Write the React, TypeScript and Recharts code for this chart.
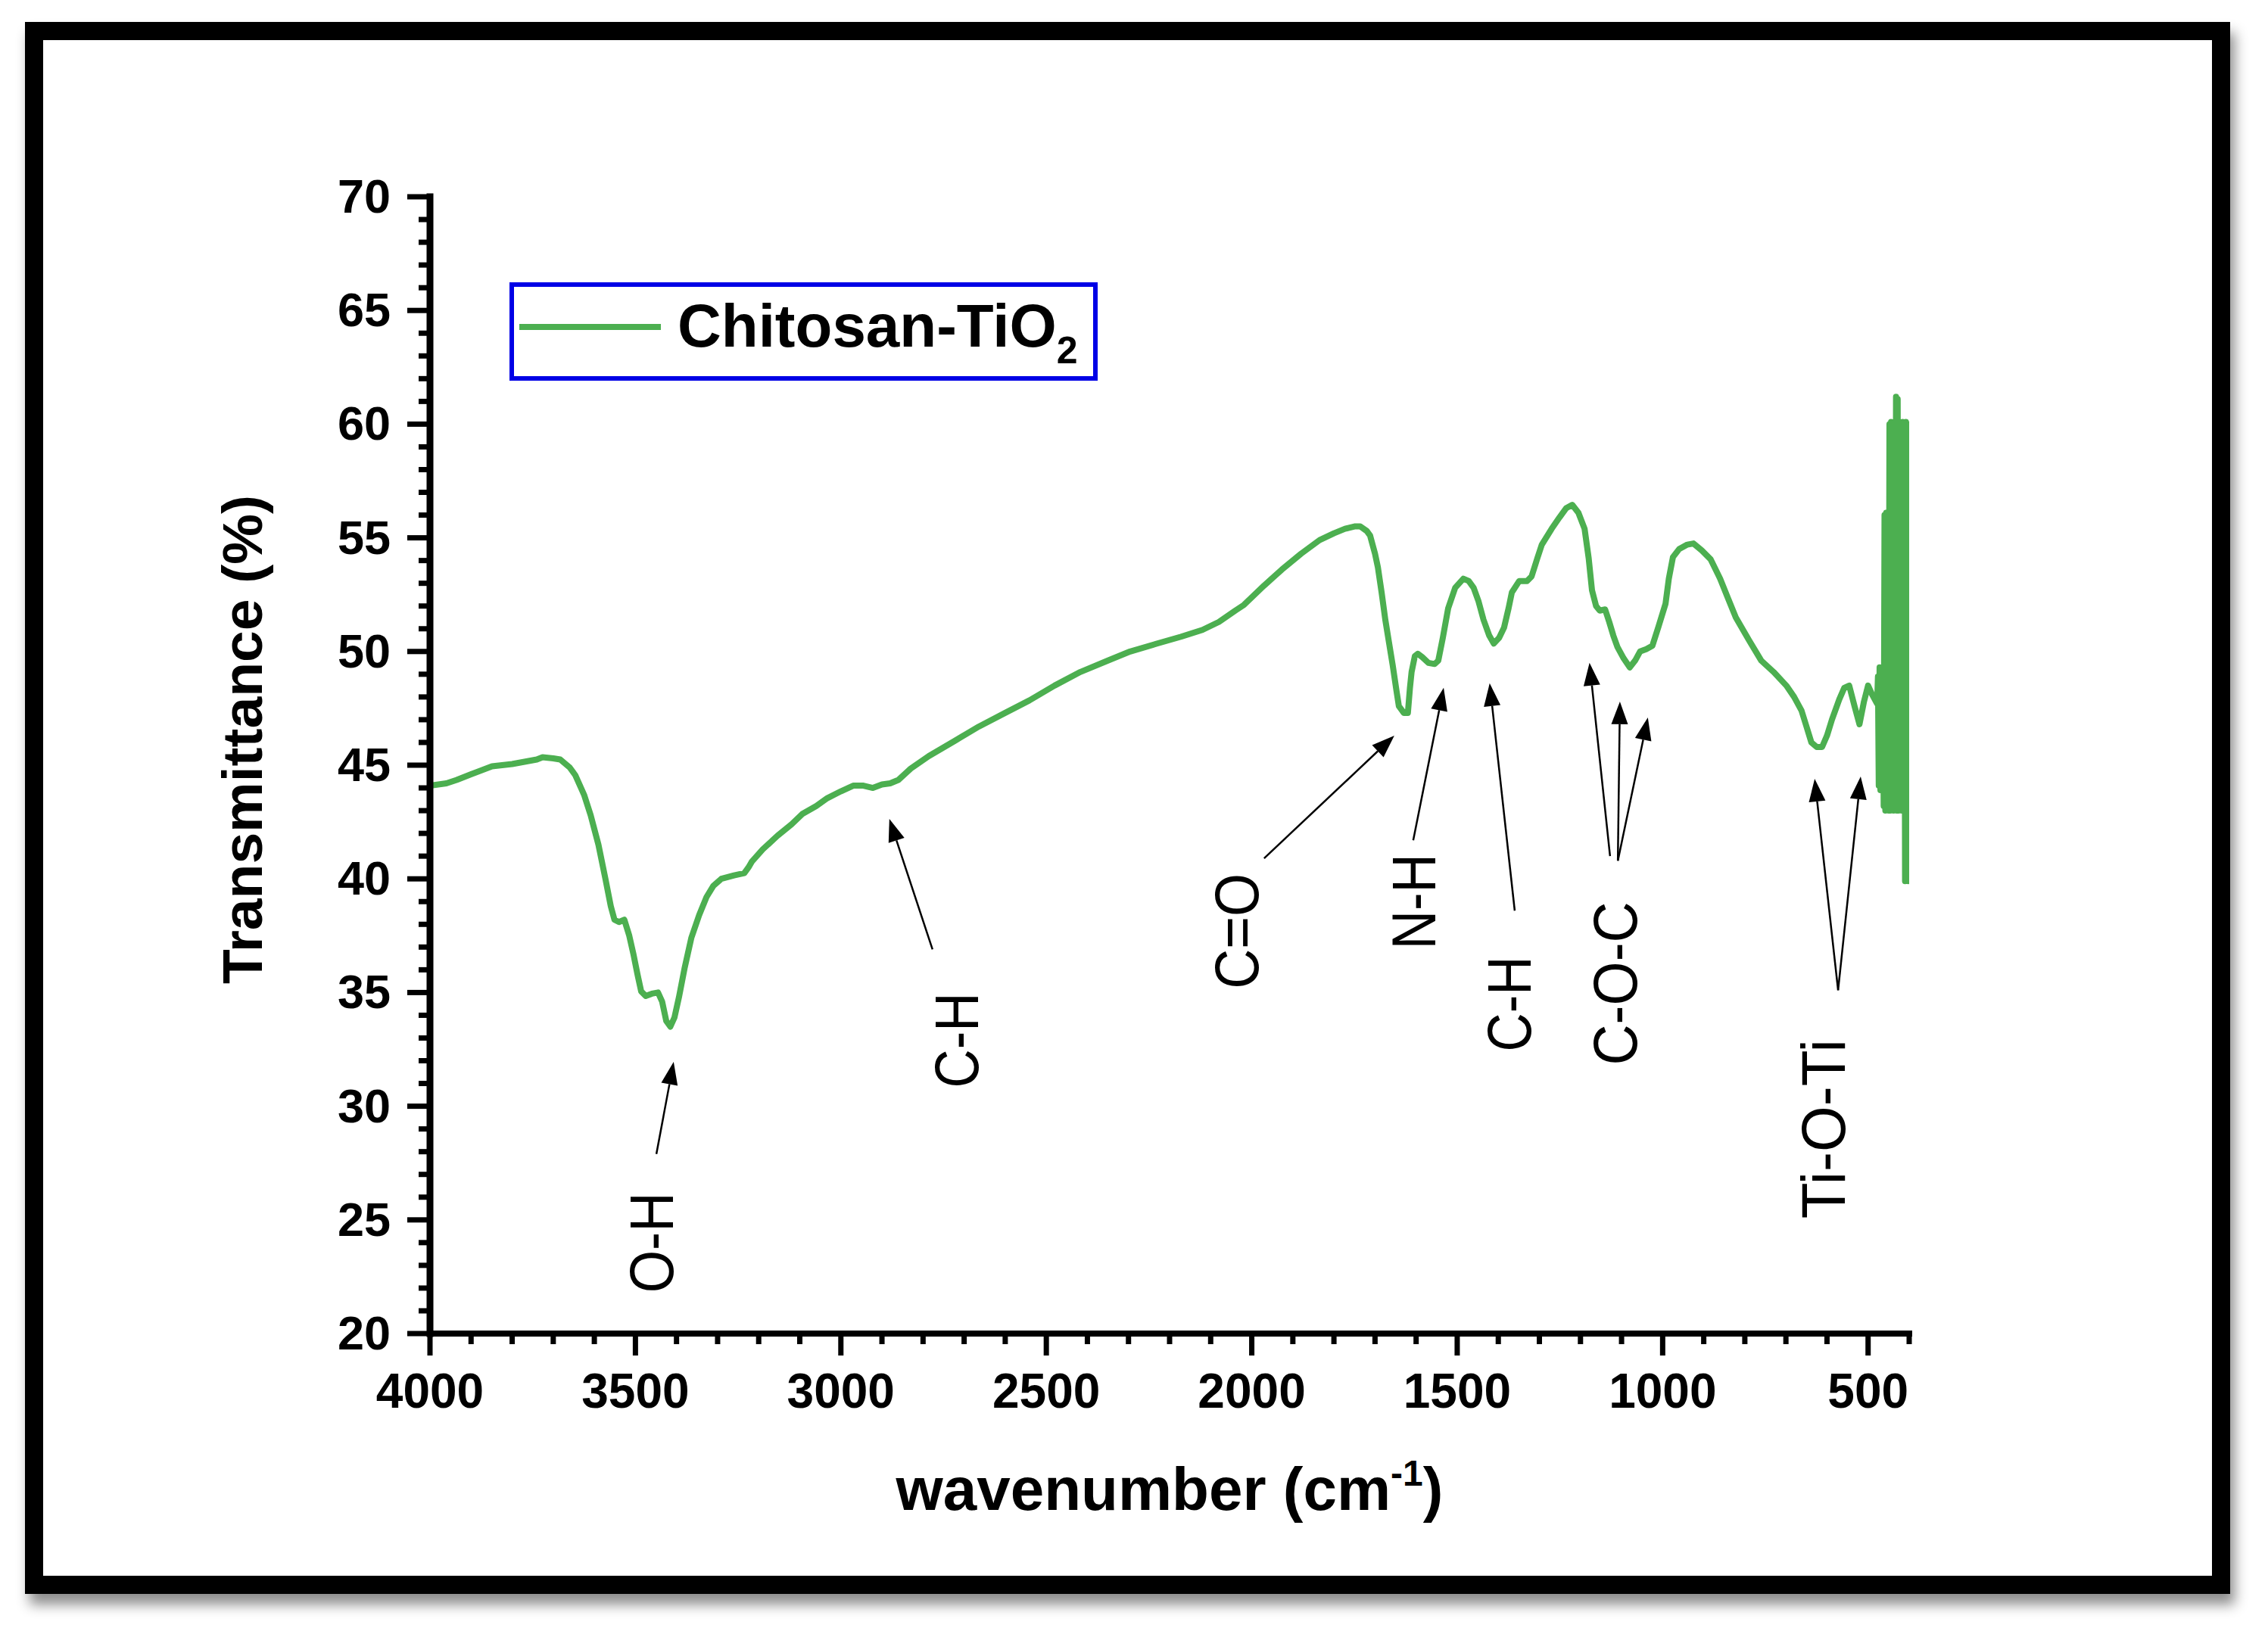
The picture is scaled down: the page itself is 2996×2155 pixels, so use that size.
import React from 'react';
import { LineChart, Line, XAxis, YAxis, ReferenceLine, ReferenceDot, Legend, Label } from 'recharts';

const GREEN = '#4caf50';
const FONT = '"Liberation Sans", Arial, Helvetica, sans-serif';

// FTIR spectrum (wavenumber in cm-1, transmittance in %)
const wavenumber = [
  4000, 3960, 3935, 3900, 3849, 3800, 3770, 3740, 3726, 3700,
  3683, 3660, 3646, 3625, 3609, 3590, 3573, 3560, 3551, 3540,
  3527, 3515, 3505, 3495, 3486, 3475, 3460, 3445, 3435, 3425,
  3415, 3405, 3394, 3380, 3364, 3345, 3327, 3310, 3291, 3260,
  3235, 3225, 3217, 3190, 3154, 3120, 3094, 3060, 3033, 3000,
  2970, 2945, 2922, 2900, 2880, 2860, 2830, 2786, 2720, 2664,
  2600, 2541, 2480, 2417, 2350, 2296, 2230, 2172, 2120, 2080,
  2040, 2019, 1970, 1927, 1880, 1835, 1800, 1773, 1750, 1736,
  1720, 1712, 1700, 1693, 1684, 1675, 1666, 1657, 1648, 1642,
  1630, 1620, 1615, 1611, 1603, 1596, 1585, 1570, 1555, 1546,
  1535, 1522, 1505, 1485, 1472, 1460, 1448, 1436, 1422, 1411,
  1398, 1386, 1375, 1367, 1349, 1330, 1319, 1305, 1294, 1270,
  1251, 1235, 1220, 1205, 1190, 1180, 1172, 1162, 1153, 1140,
  1130, 1120, 1110, 1095, 1080, 1067, 1055, 1040, 1025, 1010,
  993, 985, 975, 960, 940, 925, 905, 883, 860, 840,
  822, 790, 760, 730, 699, 680, 662, 650, 638, 625,
  612, 600, 588, 578, 570, 558, 546, 533, 521, 510,
  500, 490, 478,
];

const transmittance = [
  44.1, 44.2, 44.35, 44.6, 44.95, 45.05, 45.15, 45.25, 45.35, 45.3,
  45.25, 44.9, 44.55, 43.7, 42.8, 41.5, 40.0, 38.8, 38.2, 38.1,
  38.2, 37.5, 36.7, 35.8, 35.05, 34.85, 34.95, 35.0, 34.6, 33.75,
  33.5, 33.9, 34.8, 36.1, 37.4, 38.4, 39.2, 39.7, 40.0, 40.15,
  40.25, 40.5, 40.75, 41.3, 41.9, 42.4, 42.85, 43.2, 43.55, 43.85,
  44.1, 44.1, 44.0, 44.15, 44.2, 44.35, 44.85, 45.4, 46.1, 46.7,
  47.3, 47.85, 48.5, 49.1, 49.6, 50.0, 50.35, 50.65, 50.95, 51.3,
  51.8, 52.05, 52.9, 53.6, 54.3, 54.9, 55.2, 55.4, 55.5, 55.5,
  55.3, 55.1, 54.3, 53.7, 52.6, 51.4, 50.4, 49.4, 48.3, 47.6,
  47.3, 47.3, 48.4, 49.1, 49.8, 49.9, 49.75, 49.5, 49.45, 49.6,
  50.6, 51.9, 52.8, 53.2, 53.1, 52.8, 52.2, 51.4, 50.7, 50.35,
  50.6, 51.05, 51.9, 52.6, 53.1, 53.1, 53.3, 54.1, 54.7, 55.4,
  55.9, 56.3, 56.45, 56.1, 55.4, 54.1, 52.7, 52.0, 51.8, 51.85,
  51.3, 50.7, 50.2, 49.7, 49.3, 49.6, 50.0, 50.1, 50.25, 51.1,
  52.1, 53.2, 54.15, 54.5, 54.7, 54.75, 54.45, 54.05, 53.2, 52.3,
  51.5, 50.5, 49.6, 49.1, 48.5, 48.0, 47.4, 46.7, 46.0, 45.8,
  45.8, 46.3, 47.0, 47.5, 47.9, 48.4, 48.5, 47.6, 46.8, 47.8,
  48.5, 48.1, 47.7,
];

// noisy low-wavenumber end of the spectrum
const noiseWavenumber = [
  476, 474, 472, 470, 468, 466, 464, 462, 460, 458,
  456, 454, 452, 450, 448, 446, 444, 442, 440, 438,
  436, 434, 432, 430, 428, 426, 424, 422, 420, 418,
  416, 414, 412, 410, 408, 406, 404, 402, 400,
];
const noiseTransmittance = [
  48.9, 44.1, 49.3, 43.9, 49.1, 44.0, 49.3, 43.2, 56.0, 43.0,
  56.1, 43.1, 55.9, 43.0, 60.0, 43.0, 60.1, 43.1, 59.9, 43.0,
  60.0, 43.2, 61.2, 43.0, 61.1, 43.0, 60.1, 43.1, 60.0, 43.0,
  60.1, 43.0, 60.0, 39.9, 60.1, 40.0, 60.0, 39.9, 60.0,
];

const xMajorTicks = [4000, 3500, 3000, 2500, 2000, 1500, 1000, 500];
const yMajorTicks = [20, 25, 30, 35, 40, 45, 50, 55, 60, 65, 70];

// band assignments: label centre and the arrows pointing at the peaks
const bandLabels = [
  { text: 'O-H', wn: 3462, t: 24.0, len: 133 },
  { text: 'C-H', wn: 2721, t: 32.9, len: 126 },
  { text: 'C=O', wn: 2038, t: 37.7, len: 153 },
  { text: 'N-H', wn: 1607, t: 39.0, len: 126 },
  { text: 'C-H', wn: 1375, t: 34.5, len: 126 },
  { text: 'C-O-C', wn: 1117, t: 35.4, len: 216 },
  { text: 'Ti-O-Ti', wn: 610, t: 29.0, len: 237 },
];

const bandArrows = [
  { x1: 3449, y1: 27.9, x2: 3407, y2: 31.95 },
  { x1: 2777, y1: 36.9, x2: 2882, y2: 42.64 },
  { x1: 1970, y1: 40.9, x2: 1653, y2: 46.3 },
  { x1: 1607, y1: 41.7, x2: 1533, y2: 48.4 },
  { x1: 1360, y1: 38.6, x2: 1421, y2: 48.6 },
  { x1: 1128, y1: 41.0, x2: 1178, y2: 49.5 },
  { x1: 1109, y1: 40.8, x2: 1104, y2: 47.8 },
  { x1: 1109, y1: 40.8, x2: 1036, y2: 47.1 },
  { x1: 573, y1: 35.1, x2: 630, y2: 44.4 },
  { x1: 573, y1: 35.1, x2: 518, y2: 44.5 },
];

const data = [
  ...wavenumber.map((wn, i) => ({ wn, t: transmittance[i] })),
  ...noiseWavenumber.map((wn, i) => ({ wn, t: noiseTransmittance[i] })),
];

const xTicks = Array.from({ length: 37 }, (_, i) => 400 + i * 100);
const yTicks = Array.from({ length: 51 }, (_, i) => 20 + i);

const XTick = (props: any) => {
  const { x, y, payload } = props;
  const major = xMajorTicks.includes(payload.value);
  return (
    <g>
      <line x1={x} y1={y} x2={x} y2={y + (major ? 29 : 14)} stroke="#000" strokeWidth={7} />
      {major && (
        <text x={x} y={y + 98} textAnchor="middle" fontFamily={FONT} fontWeight={700} fontSize={64} fill="#000">
          {payload.value}
        </text>
      )}
    </g>
  );
};

const YTick = (props: any) => {
  const { x, y, payload } = props;
  const major = yMajorTicks.includes(payload.value);
  return (
    <g>
      <line x1={x} y1={y} x2={x - (major ? 30 : 15)} y2={y} stroke="#000" strokeWidth={7} />
      {major && (
        <text x={x - 52} y={y + 21} textAnchor="end" fontFamily={FONT} fontWeight={700} fontSize={63} fill="#000">
          {payload.value}
        </text>
      )}
    </g>
  );
};

const Arrow = (p: any) => {
  const { x1, y1, x2, y2 } = p;
  const dx = x2 - x1;
  const dy = y2 - y1;
  const len = Math.hypot(dx, dy) || 1;
  const ux = dx / len;
  const uy = dy / len;
  const head = 30;
  const half = 11;
  const bx = x2 - ux * head;
  const by = y2 - uy * head;
  const pts = `${x2},${y2} ${bx - uy * half},${by + ux * half} ${bx + uy * half},${by - ux * half}`;
  return (
    <g>
      <line x1={x1} y1={y1} x2={bx} y2={by} stroke="#000" strokeWidth={2.5} />
      <polygon points={pts} fill="#000" />
    </g>
  );
};

const bandText = (text: string, len: number) => (p: any) => {
  const fs = 82;
  const bx = p.cx + fs * 0.358;
  return (
    <text
      x={bx}
      y={p.cy}
      transform={`rotate(-90 ${bx} ${p.cy})`}
      textAnchor="middle"
      fontFamily={FONT}
      fontSize={fs}
      fill="#000"
      textLength={len}
      lengthAdjust="spacingAndGlyphs"
    >
      {text}
    </text>
  );
};

const LegendBox = () => (
  <svg width={777} height={130} style={{ display: 'block' }}>
    <rect x={3} y={3} width={771} height={124} fill="#fff" stroke="#0000e6" strokeWidth={6} />
    <line x1={13} y1={59} x2={200} y2={59} stroke={GREEN} strokeWidth={8} />
    <text x={222} y={85} fontFamily={FONT} fontWeight={700} fontSize={80} fill="#000">
      Chitosan-TiO
      <tspan fontSize={50} dy={22}>2</tspan>
    </text>
  </svg>
);

export default function App() {
  return (
    <div style={{ position: 'absolute', left: 0, top: 0, width: 2996, height: 2155, background: '#fff', overflow: 'hidden' }}>
      <div
        style={{
          position: 'absolute',
          left: 33,
          top: 29,
          width: 2913,
          height: 2077,
          border: '24px solid #000',
          boxSizing: 'border-box',
          boxShadow: '6px 14px 16px rgba(0,0,0,0.45)',
          background: '#fff',
        }}
      />
      <div style={{ position: 'absolute', left: 0, top: 0 }}>
        <LineChart width={2996} height={2155} data={data} margin={{ top: 260, right: 474, bottom: 293, left: 468 }}>
          <XAxis
            dataKey="wn"
            type="number"
            domain={[400, 4000]}
            reversed
            allowDataOverflow
            ticks={xTicks}
            interval={0}
            tickSize={0}
            tickMargin={0}
            tickLine={false}
            tick={<XTick />}
            height={100}
            axisLine={{ stroke: '#000', strokeWidth: 8, strokeLinecap: 'square' }}
          >
            <Label
              content={({ viewBox }: any) => (
                <text
                  x={viewBox.x + viewBox.width / 2}
                  y={viewBox.y + 233}
                  textAnchor="middle"
                  fontFamily={FONT}
                  fontWeight={700}
                  fontSize={80}
                  fill="#000"
                >
                  wavenumber (cm
                  <tspan fontSize={48} dy={-32}>-1</tspan>
                  <tspan dy={32}>)</tspan>
                </text>
              )}
            />
          </XAxis>
          <XAxis
            xAxisId="top"
            orientation="top"
            dataKey="wn"
            type="number"
            domain={[400, 4000]}
            reversed
            allowDataOverflow
            height={0}
            tick={false}
            tickLine={false}
            axisLine={{ stroke: '#000', strokeWidth: 7, strokeLinecap: 'square' }}
          />
          <YAxis
            type="number"
            domain={[20, 70]}
            allowDataOverflow
            ticks={yTicks}
            interval={0}
            tickSize={0}
            tickMargin={0}
            tickLine={false}
            tick={<YTick />}
            width={100}
            axisLine={{ stroke: '#000', strokeWidth: 9, strokeLinecap: 'square' }}
          >
            <Label
              content={({ viewBox }: any) => {
                const cx = viewBox.x - 122;
                const cy = viewBox.y + viewBox.height / 2 - 34;
                return (
                  <text
                    x={cx}
                    y={cy}
                    transform={`rotate(-90 ${cx} ${cy})`}
                    textAnchor="middle"
                    fontFamily={FONT}
                    fontWeight={700}
                    fontSize={75}
                    fill="#000"
                  >
                    Transmittance (%)
                  </text>
                );
              }}
            />
          </YAxis>
          <YAxis
            yAxisId="right"
            orientation="right"
            type="number"
            domain={[20, 70]}
            width={0}
            tick={false}
            tickLine={false}
            axisLine={{ stroke: '#000', strokeWidth: 6 }}
          />
          <Legend
            layout="horizontal"
            verticalAlign="middle"
            align="center"
            content={() => <LegendBox />}
            wrapperStyle={{ position: 'absolute', left: 673, top: 373, width: 777, height: 130 }}
          />
          <Line
            type="linear"
            dataKey="t"
            name="Chitosan-TiO2"
            stroke={GREEN}
            strokeWidth={8}
            strokeLinejoin="round"
            dot={false}
            activeDot={false}
            isAnimationActive={false}
          />
          {bandArrows.map((a, i) => (
            <ReferenceLine
              key={`arrow-${i}`}
              segment={[{ x: a.x1, y: a.y1 }, { x: a.x2, y: a.y2 }]}
              shape={Arrow}
              ifOverflow="visible"
            />
          ))}
          {bandLabels.map((b, i) => (
            <ReferenceDot
              key={`label-${i}`}
              x={b.wn}
              y={b.t}
              r={0}
              ifOverflow="visible"
              shape={bandText(b.text, b.len)}
            />
          ))}
        </LineChart>
      </div>
    </div>
  );
}
